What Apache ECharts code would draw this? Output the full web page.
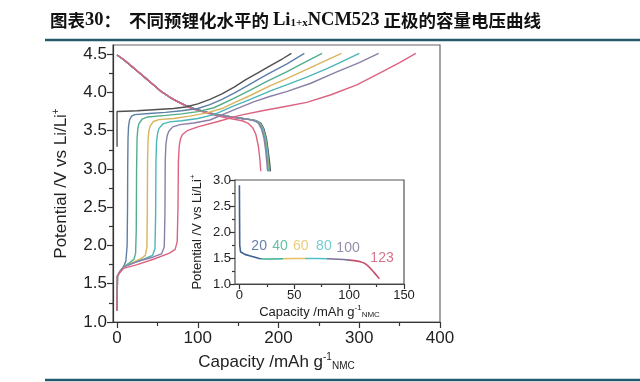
<!DOCTYPE html>
<html><head><meta charset="utf-8">
<script src="https://cdn.jsdelivr.net/npm/echarts@6/dist/echarts.min.js"></script>
<style>html,body{margin:0;padding:0;background:#fff}#c{width:640px;height:382px}</style>
</head><body><div id="c"></div>
<script>
// ---- main chart: charge curves (capacity mAh/g, potential V) ----
const levels = ['0','20','40','60','80','100','123'];
const charge0 = [[0,3.29],[0,3.75],[10,3.755],[25,3.76],[40,3.77],[55,3.78],[70,3.79],[85,3.81],[100,3.85],[115,3.91],[130,3.98],[145,4.07],[160,4.17],[175,4.26],[190,4.35],[205,4.44],[216,4.51]];
const charge20 = [[0,1.15],[0.5,1.6],[3,1.65],[8,1.72],[11,1.8],[12.5,2.0],[13,2.5],[13.2,3.0],[13.6,3.4],[14.3,3.56],[15.5,3.64],[18,3.69],[22,3.71],[40,3.725],[60,3.74],[80,3.76],[100,3.79],[115,3.84],[130,3.91],[145,3.99],[160,4.08],[175,4.17],[190,4.26],[210,4.37],[232,4.51]];
const charge40 = [[0,1.15],[0.5,1.6],[3,1.65],[8,1.72],[15,1.77],[21,1.82],[23,1.9],[23.8,2.2],[24.2,3.0],[24.8,3.4],[25.7,3.52],[27,3.59],[31,3.65],[38,3.68],[60,3.70],[80,3.72],[100,3.75],[120,3.80],[144,3.92],[165,4.03],[185,4.14],[210,4.27],[230,4.38],[254,4.51]];
const charge60 = [[0,1.15],[0.5,1.6],[3,1.65],[8,1.72],[20,1.78],[30,1.83],[35,1.87],[37,1.98],[37.5,2.5],[37.8,3.1],[38.5,3.4],[39.5,3.5],[41,3.56],[45,3.62],[52,3.645],[70,3.66],[90,3.69],[110,3.73],[130,3.79],[144,3.86],[165,3.96],[190,4.09],[210,4.18],[235,4.3],[255,4.4],[278,4.51]];
const charge80 = [[0,1.15],[0.5,1.6],[3,1.65],[8,1.72],[20,1.77],[35,1.83],[44,1.87],[47,1.96],[47.8,2.4],[48.2,3.1],[49,3.36],[50.3,3.47],[52,3.53],[57,3.59],[65,3.615],[80,3.63],[100,3.66],[120,3.71],[144,3.82],[165,3.91],[190,4.02],[210,4.1],[235,4.2],[260,4.31],[280,4.41],[300,4.51]];
const charge100 = [[0,1.15],[0.5,1.6],[3,1.65],[8,1.72],[25,1.79],[45,1.85],[55,1.89],[58.5,1.98],[59.3,2.4],[59.7,3.1],[60.5,3.32],[62,3.43],[64,3.49],[69,3.55],[78,3.58],[95,3.60],[115,3.64],[144,3.77],[170,3.88],[190,3.95],[210,4.01],[240,4.12],[270,4.26],[300,4.39],[324,4.51]];
const charge123 = [[0,1.15],[0.5,1.6],[3,1.64],[8,1.7],[25,1.75],[45,1.82],[65,1.9],[72,1.95],[74.5,2.05],[75.5,2.5],[76,3.1],[77,3.3],[78.5,3.39],[81,3.45],[87,3.5],[100,3.55],[125,3.62],[152,3.70],[180,3.76],[210,3.82],[235,3.87],[265,3.97],[297,4.1],[330,4.28],[350,4.39],[370,4.51]];
// discharge curves
const dischargeCommon = [[0,4.49],[8,4.43],[16,4.36],[25,4.28],[35,4.19],[45,4.10],[55,4.01],[65,3.94],[75,3.88],[85,3.83],[95,3.79],[105,3.76],[115,3.73],[125,3.71],[135,3.69],[145,3.675],[155,3.66],[165,3.645]];
const tail0 = [[172,3.63],[178,3.6],[182,3.52],[185,3.4],[187,3.25],[189,3.08],[190,2.97]];
const tail20 = [[172,3.63],[177.5,3.6],[181.5,3.52],[184.5,3.4],[186.5,3.25],[188,3.08],[189,2.97]];
const tail40 = [[172,3.63],[177,3.6],[181,3.52],[184,3.4],[186,3.25],[187.5,3.08],[188.5,2.97]];
const tail60 = [[171,3.63],[176.5,3.6],[180.5,3.52],[183.5,3.4],[185.5,3.25],[187,3.08],[188,2.97]];
const tail80 = [[171,3.63],[176,3.6],[180,3.52],[183,3.4],[185,3.25],[186.5,3.08],[187.5,2.97]];
const tail100 = [[170,3.63],[175,3.6],[179,3.52],[182,3.4],[184,3.25],[185.5,3.08],[186.5,2.97]];
const discharge123 = [[0,4.49],[8,4.43],[16,4.36],[25,4.28],[35,4.19],[45,4.10],[55,4.01],[65,3.94],[75,3.88],[85,3.82],[95,3.78],[105,3.75],[115,3.72],[125,3.69],[135,3.67],[145,3.65],[155,3.63],[162,3.6],[168,3.54],[172,3.45],[175,3.3],[177,3.12],[178,2.97]];
// tick values
const xTicks = [0,100,200,300,400];
const xMinor = [50,150,250,350];
const yTicks = [1.0,1.5,2.0,2.5,3.0,3.5,4.0,4.5];
const yMinor = [1.25,1.75,2.25,2.75,3.25,3.75,4.25];
// ---- inset ----
const insetCap = [0,0.3,1,2,5,10,15,18,22,30,40,50,60,70,80,85,90,95,100,105,110,113,116,119,122,124,126,127.5];
const insetV = [2.9,1.75,1.62,1.59,1.57,1.54,1.51,1.49,1.48,1.48,1.485,1.49,1.49,1.49,1.485,1.48,1.475,1.47,1.46,1.45,1.43,1.41,1.37,1.31,1.24,1.19,1.14,1.1];
const insetBreaks = [20,40,60,80,100];
const insetLabelText = ['20','40','60','80','100','123'];
const insetLabelCap = [18,37,56,77,99,130];
const insetLabelV = [1.73,1.73,1.73,1.73,1.69,1.49];
const insetXTicks = [0,50,100,150];
const insetXMinor = [25,75,125];
const insetYTicks = [1.0,1.5,2.0,2.5,3.0];
const insetYMinor = [1.25,1.75,2.25,2.75];

// styles
const colors = ['#505050','#5d7ea6','#52ad8c','#d8b45c','#4ab6b8','#8a7fa6','#dc6380'];
const insetColors = ['#3e5f92','#3fae8e','#e6c05e','#4fc0c8','#7c6f98','#c8506e'];
const FONT = 'Liberation Sans';
const axisColor = '#333';

const charges = [charge0,charge20,charge40,charge60,charge80,charge100,charge123];
const tails = [tail0,tail20,tail40,tail60,tail80,tail100];
const discharges = tails.map(t => dischargeCommon.concat(t)).concat([discharge123]);

const series = [];
discharges.forEach((d,i)=>series.push({type:'line',xAxisIndex:0,yAxisIndex:0,data:d,showSymbol:false,silent:true,
  lineStyle:{color:colors[i],width:1.4},z:2}));
charges.forEach((d,i)=>series.push({type:'line',xAxisIndex:0,yAxisIndex:0,data:d,showSymbol:false,silent:true,
  lineStyle:{color:colors[i],width:1.4},z:3}));
const insetIdx = series.length;
series.push({type:'line',xAxisIndex:2,yAxisIndex:2,data:insetCap.map((c,i)=>[c,insetV[i]]),showSymbol:false,silent:true,
  lineStyle:{width:1.6},z:5});
series.push({type:'scatter',xAxisIndex:2,yAxisIndex:2,symbolSize:0,silent:true,z:6,
  data:insetLabelText.map((t,i)=>({value:[insetLabelCap[i],insetLabelV[i]],
     label:{show:true,position:'inside',formatter:t,color:insetColors[i],fontSize:14,fontFamily:FONT}}))});

const pieces = [];
for (let i=0;i<=insetBreaks.length;i++){
  const p = {color:insetColors[i]};
  if (i>0) p.gte = insetBreaks[i-1];
  if (i<insetBreaks.length) p.lt = insetBreaks[i];
  pieces.push(p);
}

function axisBase(grid,pos,min,max,ticks,len,labelOpts){
  return {type:'value',gridIndex:grid,position:pos,min:min,max:max,
    axisLine:{show:true,onZero:false,lineStyle:{color:axisColor,width:1.2}},
    axisTick:{show:true,inside:false,length:len,customValues:ticks,lineStyle:{color:axisColor,width:1.2}},
    axisLabel:labelOpts,splitLine:{show:false}};
}
function minorAxis(grid,pos,min,max,ticks,len){
  return {type:'value',gridIndex:grid,position:pos,min:min,max:max,
    axisLine:{show:false,onZero:false},
    axisTick:{show:true,inside:false,length:len,customValues:ticks,lineStyle:{color:axisColor,width:1.2}},
    axisLabel:{show:false},splitLine:{show:false}};
}

const xMain = axisBase(0,'bottom',-5,400,xTicks,6,{customValues:xTicks,fontSize:17,color:'#222',fontFamily:FONT,margin:8});
Object.assign(xMain,{name:'Capacity /mAh g{sup|-1}{sub|NMC}',nameLocation:'middle',nameGap:30,
  nameTextStyle:{fontSize:17,color:'#222',fontFamily:FONT,rich:{sup:{fontSize:10,fontFamily:FONT,color:'#222',padding:[0,0,10,0]},sub:{fontSize:10,fontFamily:FONT,color:'#222',padding:[8,0,0,0]}}}});
const yMain = axisBase(0,'left',1,4.62,yTicks,6,{customValues:yTicks,fontSize:17,color:'#222',fontFamily:FONT,margin:6,formatter:v=>v.toFixed(1)});
Object.assign(yMain,{name:'Potential /V vs Li/Li{sup|+}',nameLocation:'middle',nameGap:42,nameRotate:90,
  nameTextStyle:{fontSize:17,color:'#222',fontFamily:FONT,rich:{sup:{fontSize:10,fontFamily:FONT,color:'#222',padding:[0,0,10,0]}}}});
const xIn = axisBase(1,'bottom',-4,150,insetXTicks,5,{customValues:insetXTicks,fontSize:13,color:'#222',fontFamily:FONT,margin:5});
Object.assign(xIn,{name:'Capacity /mAh g{sup|-1}{sub|NMC}',nameLocation:'middle',nameGap:20,
  nameTextStyle:{fontSize:13,color:'#222',fontFamily:FONT,rich:{sup:{fontSize:8,fontFamily:FONT,color:'#222',padding:[0,0,8,0]},sub:{fontSize:8,fontFamily:FONT,color:'#222',padding:[6,0,0,0]}}}});
const yIn = axisBase(1,'left',1,3,insetYTicks,5,{customValues:insetYTicks,fontSize:13,color:'#222',fontFamily:FONT,margin:4,formatter:v=>v.toFixed(1)});
Object.assign(yIn,{name:'Potential /V vs Li/Li{sup|+}',nameLocation:'middle',nameGap:30,nameRotate:90,
  nameTextStyle:{fontSize:13,color:'#222',fontFamily:FONT,rich:{sup:{fontSize:8,fontFamily:FONT,color:'#222',padding:[0,0,8,0]}}}});

const chart = echarts.init(document.getElementById('c'),null,{renderer:'canvas'});
chart.setOption({
  animation:false,
  backgroundColor:'#fff',
  title:{left:45,top:6,text:'{a|图表}{b|30}{a|：  不同预锂化水平的 }{b|Li}{s|1+x}{b|NCM523}{a| 正极的容量电压曲线}',
    textStyle:{rich:{
      a:{fontFamily:'Noto Sans CJK SC',fontWeight:'bold',fontSize:17.5,color:'#111'},
      b:{fontFamily:'Liberation Serif',fontWeight:'bold',fontSize:18.5,color:'#111'},
      s:{fontFamily:'Liberation Serif',fontWeight:'bold',fontSize:11,color:'#111',padding:[6,0,0,0]}}}},
  graphic:[
    {type:'line',shape:{x1:45,y1:40,x2:640,y2:40},style:{stroke:'#245a6c',lineWidth:2.5},z:10},
    {type:'line',shape:{x1:45,y1:380,x2:640,y2:380},style:{stroke:'#245a6c',lineWidth:2.5},z:10}
  ],
  grid:[
    {left:113,top:45,width:327,height:277,show:true,borderColor:'#666',borderWidth:1.2,backgroundColor:'transparent'},
    {left:235,top:180,width:169,height:104,show:true,borderColor:'#555',borderWidth:1.2,backgroundColor:'#fff',z:4}
  ],
  xAxis:[xMain, minorAxis(0,'bottom',-5,400,xMinor,4), xIn, minorAxis(1,'bottom',-4,150,insetXMinor,3)],
  yAxis:[yMain, minorAxis(0,'left',1,4.62,yMinor,4), yIn, minorAxis(1,'left',1,3,insetYMinor,3)],
  visualMap:[{type:'piecewise',show:false,dimension:0,seriesIndex:insetIdx,pieces:pieces}],
  series:series
});
</script></body></html>
